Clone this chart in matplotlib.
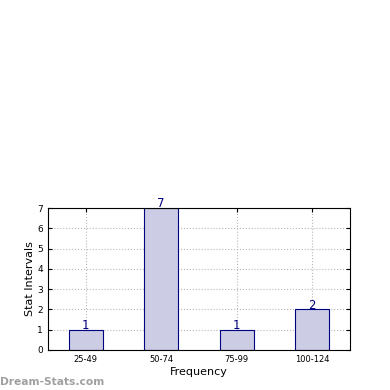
import matplotlib
matplotlib.use("Agg")
import matplotlib.pyplot as plt

categories = ["25-49", "50-74", "75-99", "100-124"]
counts = [1, 7, 1, 2]

fig = plt.figure(figsize=(3.9, 3.9), dpi=100)
ax = fig.add_axes([0.123, 0.1026, 0.774, 0.364])

x = list(range(len(categories)))
ax.bar(x, counts, width=0.45, color="#cccce5", edgecolor="#000080", linewidth=0.8, zorder=2)
for xi, c in zip(x, counts):
    ax.text(xi, c + 0.2, str(c), ha="center", va="center", color="#000080", fontsize=8.5, zorder=3,
            clip_on=False)

ax.set_xlim(-0.5, 3.5)
ax.set_ylim(0, 7)
ax.set_xticks(x)
ax.set_xticklabels(categories, fontsize=6)
ax.set_yticks(range(8))
ax.tick_params(axis="y", labelsize=6.5)
ax.tick_params(direction="in", length=3, top=True, right=True)
ax.grid(True, linestyle=":", color="#b8b8b8", linewidth=0.8, zorder=0)
ax.set_axisbelow(True)
ax.set_xlabel("Frequency", fontsize=8, labelpad=2)
ax.set_ylabel("Stat Intervals", fontsize=8, labelpad=2)

fig.text(0.0, 0.012, "Dream-Stats.com", fontsize=7.7, color="#a0a0a0", fontweight="bold")

fig.savefig("out.png", dpi=100)
